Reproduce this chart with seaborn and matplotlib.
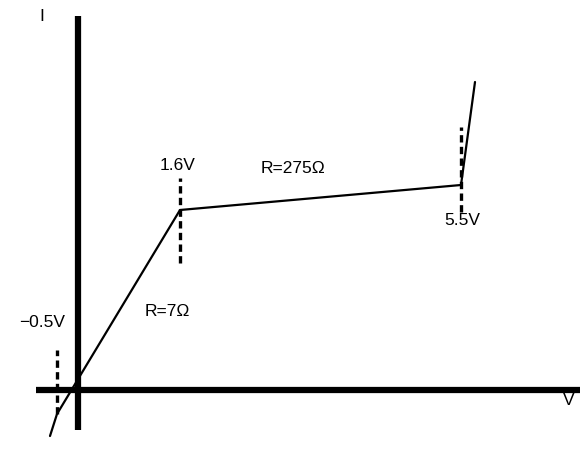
import matplotlib
matplotlib.use("Agg")
import matplotlib.pyplot as plt
import seaborn as sns
import pandas as pd

# Schematic I-V curve (plot units, origin at axis crossing)
curve_v = [-28, -21, 102, 383, 397]
curve_i = [-46, -24, 180, 205, 308]

# knee markers (dashed): x position, bottom, top
knee_v = [-21, 102, 383]
knee_lo = [-24, 127, 178]
knee_hi = [40, 212, 263]

labels = ["\u22120.5V", "1.6V", "5.5V", "R=7\u03a9", "R=275\u03a9", "I", "V"]
label_v = [-36, 99.5, 384, 89.5, 214.5, -36, 491]
label_i = [63, 220, 165, 74, 217, 369, -15]

sns.set_style("white")
plt.rcParams['font.family'] = ['Liberation Sans', 'DejaVu Sans']

fig = plt.figure(figsize=(5.83, 4.63), dpi=100)
ax = fig.add_axes([0, 0, 1, 1])
ax.set_xlim(-78, 505)
ax.set_ylim(-73, 390)
ax.axis("off")

# axes lines
ax.plot([-42, 502], [0, 0], color="black", lw=4.5, solid_capstyle="butt", zorder=1)
ax.plot([0, 0], [-40, 374], color="black", lw=4.5, solid_capstyle="butt", zorder=1)

df = pd.DataFrame({"V": curve_v, "I": curve_i})
sns.lineplot(data=df, x="V", y="I", sort=False, color="black", lw=1.6, ax=ax, zorder=3)

for v, lo, hi in zip(knee_v, knee_lo, knee_hi):
    ax.plot([v, v], [lo, hi], color="black", lw=2.4, linestyle=(0, (2.2, 1.3)), zorder=2)

for t, x, y in zip(labels, label_v, label_i):
    ax.text(x, y, t, ha="center", va="baseline", fontsize=12.5, color="black")

fig.savefig("out.png", dpi=100)
